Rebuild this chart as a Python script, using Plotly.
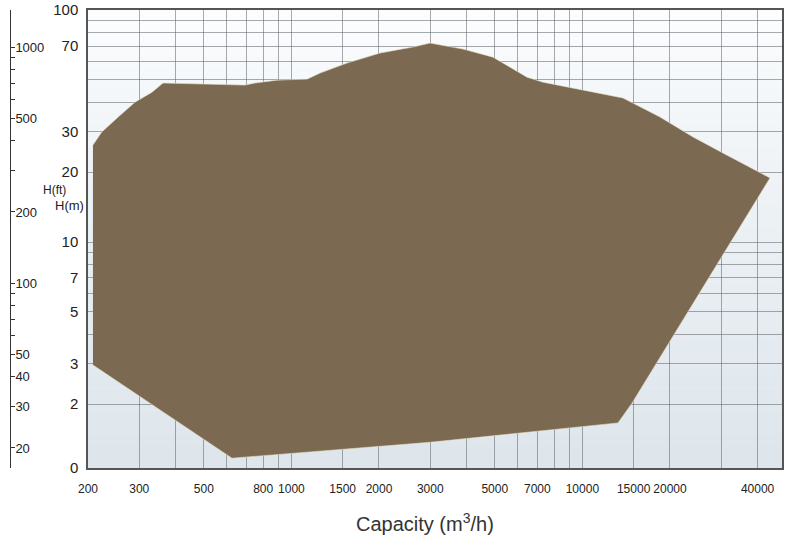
import plotly.graph_objects as go
import numpy as np

# Operating range polygon (capacity m3/h, head m)
capacity = [208, 223, 254, 290, 332, 362, 693, 750, 892, 1131, 1254, 1552, 2016, 2618,
            2994, 3889, 4930, 6452, 7322, 9580, 13790, 18478, 23990, 31400, 44130,
            14806, 13254, 2994, 625, 208]
head_m = [26.2, 29.8, 34.6, 40.1, 44.3, 48.5, 47.5, 48.5, 49.9, 50.4, 53.5, 59.1, 65.3, 69.3,
          72.1, 67.9, 62.7, 51.4, 48.9, 45.7, 41.8, 34.6, 28.4, 23.7, 18.9,
          2.02, 1.66, 1.37, 1.17, 2.95]

x_tick_vals = [200, 300, 500, 800, 1000, 1500, 2000, 3000, 5000, 7000, 10000, 15000, 20000, 40000]
x_tick_text = ["200", "300", "500", "800", "1000", "1500", "2000", "3000", "5000", "7000",
               "10000", "15000", "20000", "40000"]
x_minor_vals = [400, 600, 700, 900, 4000, 6000, 8000, 9000, 30000]

ym_tick_vals = [1.065, 2, 3, 5, 7, 10, 20, 30, 70, 100]
ym_tick_text = ["0", "2", "3", "5", "7", "10", "20", "30", "70", "100"]
ym_minor_vals = [4, 6, 8, 9, 40, 50, 60, 80, 90]

ft_tick_vals = [20, 30, 40, 50, 60, 70, 80, 90, 100, 200, 300, 400, 500, 600, 700, 800, 900, 1000]
ft_tick_text = ["20", "30", "40", "50", "", "", "", "", "100", "200", "", "", "500", "", "", "", "", "1000"]

W, H = 788, 538
OFF = 0  # body margin removed by post_script
ML, MT = 10, 10
MR = W - (782 - OFF)
MB = H - (468 - OFF)
PW, PH = W - ML - MR, H - MT - MB


def px_x(px):
    return (px - OFF - ML) / PW


def px_y(py):
    return (H - MB - (py - OFF)) / PH


SANS = "Liberation Sans, Arial, sans-serif"
GRID = "rgba(95,100,108,0.55)"

fig = go.Figure()
fig.add_trace(go.Scatter(
    x=capacity, y=head_m, mode="lines", fill="toself",
    fillcolor="rgb(123,106,81)",
    line=dict(color="rgba(235,225,205,0.7)", width=0.8),
    hoverinfo="skip", showlegend=False,
))
# invisible trace for the ft axis
fig.add_trace(go.Scatter(x=[1000], y=[100], yaxis="y2", mode="markers",
                         marker=dict(opacity=0), hoverinfo="skip", showlegend=False))

# background gradient bands
nb = 40
top = np.array([253, 254, 255])
bot = np.array([222, 230, 236])
shapes = []
for i in range(nb):
    t = (i + 0.5) / nb
    c = top + (bot - top) * (t ** 0.8)
    shapes.append(dict(type="rect", xref="x domain", yref="y domain",
                       x0=0, x1=1, y0=1 - (i + 1) / nb, y1=1 - i / nb + 0.001,
                       fillcolor="rgb(%d,%d,%d)" % tuple(c.astype(int)),
                       line=dict(width=0), layer="below"))

fig.update_layout(
    width=W, height=H,
    margin=dict(l=ML, r=MR, t=MT, b=MB, autoexpand=False),
    paper_bgcolor="white", plot_bgcolor="white",
    shapes=shapes,
    xaxis=dict(
        type="log", domain=[(88 - OFF - ML) / PW, 1], automargin=False,
        range=[np.log10(200), 4.686],
        tickmode="array", tickvals=x_tick_vals, ticktext=x_tick_text,
        tickangle=0,
        ticks="outside", ticklen=9, tickcolor="rgba(0,0,0,0)",
        tickfont=dict(family=SANS, size=12, color="#222"),
        showgrid=True, gridcolor=GRID, gridwidth=1,
        minor=dict(tickmode="array", tickvals=x_minor_vals, showgrid=True,
                   gridcolor=GRID, gridwidth=1),
        showline=True, linecolor="#555", linewidth=1.5, mirror=True,
        zeroline=False,
    ),
    yaxis=dict(
        type="log", range=[0.0259, 2.0005], automargin=False,
        tickmode="array", tickvals=ym_tick_vals, ticktext=ym_tick_text,
        ticks="outside", ticklen=5, tickcolor="rgba(0,0,0,0)",
        ticklabeloverflow="allow",
        tickfont=dict(family=SANS, size=15, color="#222"),
        showgrid=True, gridcolor=GRID, gridwidth=1,
        minor=dict(tickmode="array", tickvals=ym_minor_vals, showgrid=True,
                   gridcolor=GRID, gridwidth=1),
        showline=True, linecolor="#555", linewidth=1.5, mirror=True,
        zeroline=False,
    ),
    yaxis2=dict(
        type="log", range=[1.216, 3.157], overlaying="y", anchor="free",
        position=0, side="left", automargin=False,
        tickmode="array", tickvals=ft_tick_vals, ticktext=ft_tick_text,
        ticks="inside", ticklen=4, tickcolor="#333", ticklabelposition="inside",
        tickfont=dict(family=SANS, size=13, color="#222"),
        showgrid=False, showline=True, linecolor="#333", linewidth=1,
        zeroline=False,
    ),
    annotations=[
        dict(text="Capacity (m<sup>3</sup>/h)", x=px_x(425), y=px_y(522),
             xref="paper", yref="paper", showarrow=False,
             xanchor="center", yanchor="middle",
             font=dict(family=SANS, size=20, color="#333")),
        dict(text="H(m)", x=px_x(69), y=px_y(205), xref="paper", yref="paper",
             showarrow=False, xanchor="center", yanchor="middle",
             font=dict(family=SANS, size=13, color="#222")),
        dict(text="H(ft)", x=px_x(54), y=px_y(190), xref="paper", yref="paper",
             showarrow=False, xanchor="center", yanchor="middle",
             font=dict(family=SANS, size=12, color="#222")),
    ],
)

fig.write_html("out.html", config={"displayModeBar": False},
               post_script="document.body.style.margin='0';document.body.style.overflow='hidden';")
